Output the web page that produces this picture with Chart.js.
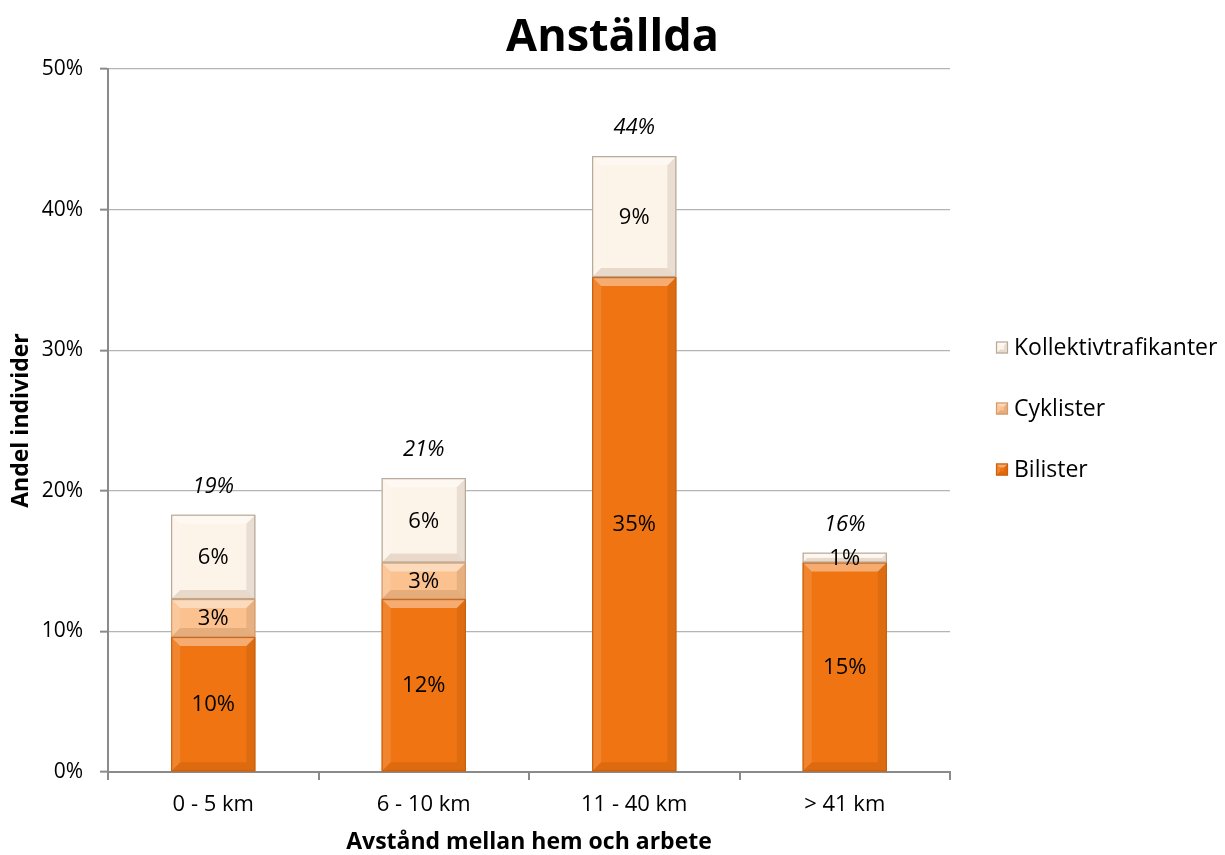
<!DOCTYPE html>
<html lang="sv">
<head>
<meta charset="utf-8">
<title>Anställda</title>
<script src="https://cdn.jsdelivr.net/npm/chart.js@4.4.1/dist/chart.umd.min.js"></script>
<style>
  html, body { margin: 0; padding: 0; background: #ffffff; }
  #wrap { width: 1225px; height: 855px; }
</style>
</head>
<body>
<div id="wrap"><canvas id="chart" width="1225" height="855"></canvas></div>
<script>
// Distance categories (x axis)
const categories = ['0 - 5 km', '6 - 10 km', '11 - 40 km', '> 41 km'];

// Share of employees per travel mode, in percent
const bilister = [9.6, 12.3, 35.2, 14.9];
const cyklister = [2.7, 2.6, 0, 0];
const kollektivtrafikanter = [6.0, 6.0, 8.6, 0.7];

// Totals printed above each stack
const totals = [19, 21, 44, 16];

// Y axis range
const yTicks = [0, 10, 20, 30, 40, 50];

const chartTitle = 'Anställda';

const FONT = '"Open Sans", Lato, "DejaVu Sans", sans-serif';

function polygon(ctx, pts, fill) {
  ctx.beginPath();
  ctx.moveTo(pts[0][0], pts[0][1]);
  for (let k = 1; k < pts.length; k++) ctx.lineTo(pts[k][0], pts[k][1]);
  ctx.closePath();
  ctx.fillStyle = fill;
  ctx.fill();
}

// Bevelled look: light top edge, darker bottom/right edges
function drawBevel(ctx, l, t, r, b, edge, maxE) {
  const h = b - t, w = r - l;
  const e = Math.min(maxE, h / 2.2, w / 2.2);
  if (e <= 0) return;
  polygon(ctx, [[l, t], [r, t], [r - e, t + e], [l + e, t + e]], 'rgba(255,255,255,0.40)');
  polygon(ctx, [[l, b], [r, b], [r - e, b - e], [l + e, b - e]], 'rgba(90,40,0,0.13)');
  polygon(ctx, [[l, t], [l + e, t + e], [l + e, b - e], [l, b]], 'rgba(255,255,255,0.12)');
  polygon(ctx, [[r, t], [r - e, t + e], [r - e, b - e], [r, b]], 'rgba(60,30,0,0.10)');
  ctx.lineWidth = 1.2;
  ctx.strokeStyle = edge;
  ctx.strokeRect(l + 0.5, t + 0.5, w - 1, h - 1);
}

const bevelPlugin = {
  id: 'bevelBars',
  afterDatasetsDraw(chart) {
    const ctx = chart.ctx;
    ctx.save();
    chart.data.datasets.forEach((ds, i) => {
      const meta = chart.getDatasetMeta(i);
      if (meta.hidden) return;
      meta.data.forEach((bar, j) => {
        if (!ds.data[j]) return;
        const p = bar.getProps(['x', 'y', 'base', 'width'], true);
        const l = p.x - p.width / 2, r = p.x + p.width / 2;
        const t = Math.min(p.y, p.base), b = Math.max(p.y, p.base);
        drawBevel(ctx, l, t, r, b, ds.edgeColor, 9);
      });
    });
    ctx.restore();
  }
};

const labelPlugin = {
  id: 'valueLabels',
  afterDatasetsDraw(chart) {
    const ctx = chart.ctx;
    ctx.save();
    ctx.textAlign = 'center';
    ctx.textBaseline = 'middle';
    ctx.fillStyle = '#000000';
    ctx.font = '22px ' + FONT;
    chart.data.datasets.forEach((ds, i) => {
      const meta = chart.getDatasetMeta(i);
      meta.data.forEach((bar, j) => {
        const v = ds.data[j];
        if (!v) return;
        const p = bar.getProps(['x', 'y', 'base'], true);
        ctx.fillText(Math.round(v) + '%', p.x, (p.y + p.base) / 2 + 1);
      });
    });
    // totals above each stack
    ctx.font = 'italic 22px ' + FONT;
    const yScale = chart.scales.y;
    categories.forEach((c, j) => {
      const sum = bilister[j] + cyklister[j] + kollektivtrafikanter[j];
      const x = chart.getDatasetMeta(0).data[j].x;
      ctx.fillText(totals[j] + '%', x, yScale.getPixelForValue(sum) - 28);
    });
    ctx.restore();
  }
};

const titleAndLegendPlugin = {
  id: 'titleAndLegend',
  afterDraw(chart) {
    const ctx = chart.ctx;
    const area = chart.chartArea;
    ctx.save();
    // heading, centred on the whole canvas
    ctx.fillStyle = '#000000';
    ctx.textAlign = 'center';
    ctx.textBaseline = 'middle';
    ctx.font = 'bold 45px ' + FONT;
    ctx.fillText(chartTitle, chart.width / 2, 38);

    // legend to the right of the plot, top series first
    const items = chart.data.datasets.slice().reverse();
    const x0 = area.right + 46;
    const yc = (area.top + area.bottom) / 2 - 12;
    const gap = 61;
    ctx.font = '23px ' + FONT;
    ctx.textAlign = 'left';
    items.forEach((ds, k) => {
      const y = yc + (k - 1) * gap;
      ctx.fillStyle = ds.backgroundColor;
      ctx.fillRect(x0, y - 6, 12, 12);
      drawBevel(ctx, x0, y - 6, x0 + 12, y + 6, ds.edgeColor, 4);
      ctx.fillStyle = '#000000';
      ctx.fillText(ds.label, x0 + 18, y + 1);
    });
    ctx.restore();
  }
};

new Chart(document.getElementById('chart'), {
  type: 'bar',
  data: {
    labels: categories,
    datasets: [
      { label: 'Bilister', data: bilister, backgroundColor: '#F07512', edgeColor: '#C9600E' },
      { label: 'Cyklister', data: cyklister, backgroundColor: '#FBC18F', edgeColor: '#D29C6E' },
      { label: 'Kollektivtrafikanter', data: kollektivtrafikanter, backgroundColor: '#FDF4E9', edgeColor: '#B7A899' }
    ]
  },
  options: {
    responsive: false,
    devicePixelRatio: 1,
    animation: false,
    layout: { padding: { left: 5, right: 275, top: 69, bottom: 0 } },
    datasets: {
      bar: { categoryPercentage: 1.0, barPercentage: 0.4, borderWidth: 0 }
    },
    plugins: {
      legend: { display: false },
      tooltip: { enabled: false },
      title: { display: false }
    },
    scales: {
      x: {
        stacked: true,
        offset: true,
        afterFit(scale) { scale.height = 83; },
        grid: {
          offset: true,
          drawOnChartArea: false,
          drawTicks: true,
          tickLength: 8,
          color: '#8a8a8a',
          lineWidth: 2
        },
        border: { display: true, color: '#8a8a8a', width: 2 },
        ticks: { color: '#000000', font: { family: FONT, size: 22 }, padding: 12 },
        title: {
          display: true,
          text: 'Avstånd mellan hem och arbete',
          color: '#000000',
          font: { family: FONT, size: 23, weight: 'bold', lineHeight: 1.0 },
          padding: { top: 0, bottom: 1 }
        }
      },
      y: {
        stacked: true,
        min: yTicks[0],
        max: yTicks[yTicks.length - 1],
        afterBuildTicks(scale) { scale.ticks = yTicks.map(v => ({ value: v })); },
        afterFit(scale) { scale.width = 103; },
        grid: {
          color: '#b4b4b4',
          lineWidth: 1.3,
          tickLength: 8,
          tickColor: '#8a8a8a',
          tickWidth: 2
        },
        border: { display: true, color: '#8a8a8a', width: 2 },
        ticks: {
          color: '#000000',
          font: { family: FONT, size: 21 },
          padding: 17,
          callback: v => v + '%'
        },
        title: {
          display: true,
          text: 'Andel individer',
          color: '#000000',
          font: { family: FONT, size: 23, weight: 'bold', lineHeight: 1.2 },
          padding: { top: 3, bottom: 4 }
        }
      }
    }
  },
  plugins: [bevelPlugin, labelPlugin, titleAndLegendPlugin]
});
</script>
</body>
</html>
